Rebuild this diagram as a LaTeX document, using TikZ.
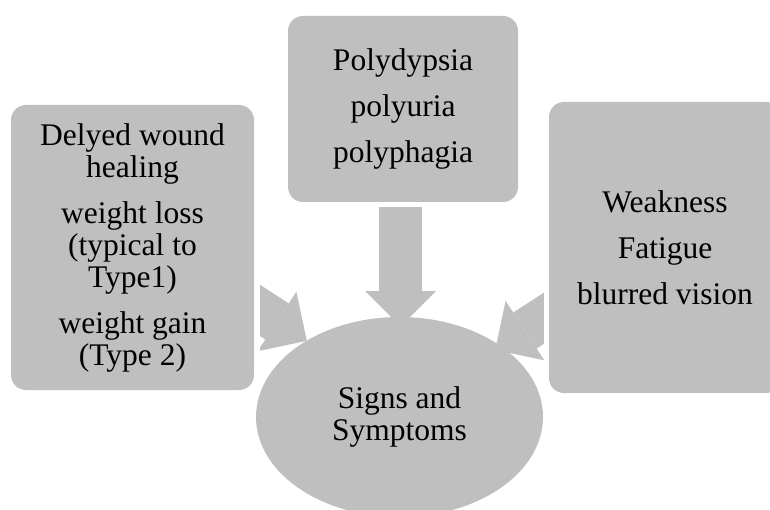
\documentclass[tikz,border=0pt]{standalone}
\usepackage{fontspec}
\setmainfont{Liberation Serif}
\usetikzlibrary{arrows.meta,calc,shapes.geometric}
\colorlet{boxFill}{gray!50}
\newcommand{\ShaftWidth}{43pt}
\newcommand{\HeadWidth}{71pt}
\newcommand{\HeadLength}{35.5pt}
\newcommand{\ParGap}{14pt}
\newcommand{\BoxFont}{\fontsize{31.5}{32}\selectfont}

\begin{document}
\begin{tikzpicture}[
  x=1pt, y=1pt,
  card/.style={rectangle, rounded corners=15pt, fill=boxFill, inner sep=0pt,
    align=center, font=\BoxFont},
  hub/.style={ellipse, fill=boxFill, inner sep=0pt, align=center, font=\BoxFont},
  blockarrow/.style={draw=boxFill, line width=\ShaftWidth,
    -{Triangle[length=\HeadLength, width=\HeadWidth, line width=0pt]}}
]
\useasboundingbox (0,0) rectangle (770,509);

% Boxes
\node[card, minimum width=243pt, minimum height=285pt] (healing) at (132.5,261.5)
  {Delyed wound\\healing\\[\ParGap]weight loss\\(typical to\\Type1)\\[\ParGap]weight gain\\(Type 2)};
\node[card, minimum width=230pt, minimum height=186pt] (poly) at (403,400)
  {Polydypsia\\[\ParGap]polyuria\\[\ParGap]polyphagia};
\node[card, minimum width=232pt, minimum height=291pt] (weak) at (665,261.5)
  {Weakness\\[\ParGap]Fatigue\\[\ParGap]blurred vision};

% Arrow ends
\coordinate (topStart) at (400.5,302);
\coordinate (topTip) at (400.5,182.5);
\coordinate (leftStart) at (206.2,233.6);
\coordinate (leftTip) at (306.8,168.2);
\coordinate (rightStart) at (595.9,224.5);
\coordinate (rightTip) at (495.2,159.1);

% Arrows
\draw[blockarrow] (topStart) -- (topTip);
\begin{scope}
  \clip ($(healing.east)+(6,-150)$) rectangle ($(weak.west)+(-5,150)$);
  \draw[blockarrow] (leftStart) -- (leftTip);
  \draw[blockarrow] (rightStart) -- (rightTip);
\end{scope}

% Centre
\node[hub, minimum width=287pt, minimum height=200pt] (symp) at (399.5,92)
  {Signs and\\Symptoms};

\end{tikzpicture}
\end{document}
